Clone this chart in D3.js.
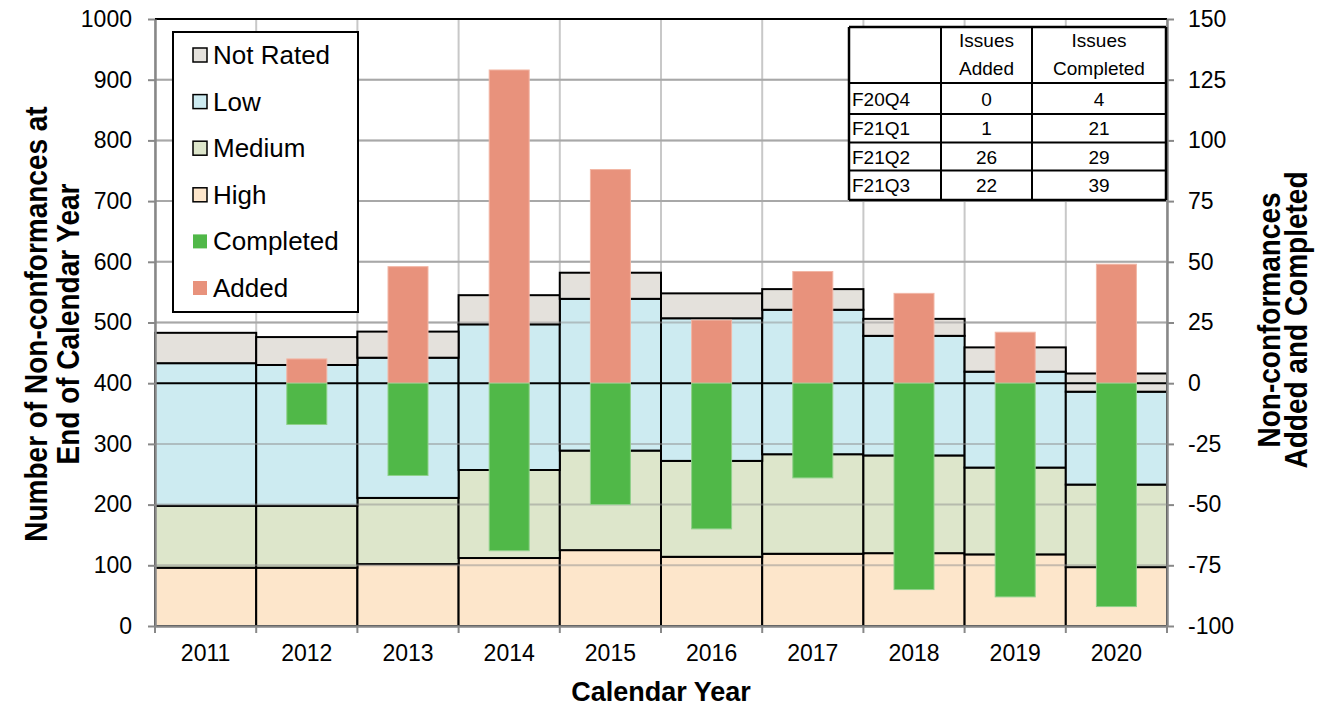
<!DOCTYPE html>
<html lang="en">

<head>
    <meta charset="UTF-8">
    <title>Non-conformances by Calendar Year</title>
    <script src="https://d3js.org/d3.v7.min.js"></script>
    <style>
    body {
        margin: 0;
        padding: 0;
        background: #fff;
        font-family: "Liberation Sans", Arial, sans-serif;
    }

    svg {
        display: block;
    }

    .axis text {
        font-size: 23px;
        fill: #000;
        font-family: "Liberation Sans", Arial, sans-serif;
    }

    .title {
        font-size: 27px;
        font-weight: bold;
    }

    .vtitle {
        font-size: 28px;
        font-weight: bold;
    }
    </style>
</head>

<body>
    <svg width="1325" height="707"></svg>
    <script>
    const width = 1325,
        height = 707;

    // data
    const years = ["2011", "2012", "2013", "2014", "2015", "2016", "2017", "2018", "2019", "2020"];
    const high = [96, 96, 102, 112, 125, 114, 119, 120, 118, 97];
    const medium = [102, 102, 109, 145, 164, 158, 164, 161, 143, 136];
    const low = [235, 232, 231, 240, 250, 235, 238, 197, 158, 153];
    const notRated = [50, 46, 43, 48, 43, 41, 34, 28, 40, 30];
    const added = [0, 10, 48, 129, 88, 26, 46, 37, 21, 49];
    const completed = [0, -17, -38, -69, -50, -60, -39, -85, -88, -92];

    const leftTicks = [0, 100, 200, 300, 400, 500, 600, 700, 800, 900, 1000];
    const rightTicks = [-100, -75, -50, -25, 0, 25, 50, 75, 100, 125, 150];

    // quarter table
    const quarters = ["F20Q4", "F21Q1", "F21Q2", "F21Q3"];
    const issuesAdded = [0, 1, 26, 22];
    const issuesCompleted = [4, 21, 29, 39];

    const stackKeys = ["High", "Medium", "Low", "Not Rated"];
    const stackColors = ["#fde6cb", "#dde6cb", "#cdebf1", "#e4e1dc"];
    const legendNames = ["Not Rated", "Low", "Medium", "High", "Completed", "Added"];
    const legendColors = ["#e4e1dc", "#cdebf1", "#dde6cb", "#fde6cb", "#50b848", "#e8927c"];

    const margin = { left: 155, right: 158, top: 19, bottom: 81 };
    const x0 = margin.left,
        x1 = width - margin.right,
        yTop = margin.top,
        yBot = height - margin.bottom;

    const svg = d3.select("svg");

    const x = d3.scaleBand().domain(years).range([x0, x1]).padding(0);
    const y = d3.scaleLinear().domain([0, 1000]).range([yBot, yTop]);
    const y2 = d3.scaleLinear().domain([-100, 150]).range([yBot, yTop]);

    // stacked table
    const rows = years.map((yr, i) => ({
        year: yr,
        "High": high[i],
        "Medium": medium[i],
        "Low": low[i],
        "Not Rated": notRated[i]
    }));
    const stacked = d3.stack().keys(stackKeys)(rows);

    // vertical grid lines (behind)
    const bounds = years.map(d => x(d)).concat([x1]);
    svg.append("g").selectAll("line")
        .data(bounds)
        .enter().append("line")
        .attr("x1", d => d).attr("x2", d => d)
        .attr("y1", yTop).attr("y2", yBot)
        .attr("stroke", "#c8c8c8")
        .attr("stroke-width", 2);

    // horizontal grid (behind)
    svg.append("g").selectAll("line")
        .data(leftTicks)
        .enter().append("line")
        .attr("x1", x0).attr("x2", x1)
        .attr("y1", d => y(d)).attr("y2", d => y(d))
        .attr("stroke", "#c0c0c0")
        .attr("stroke-width", 2);

    // stacked bars
    svg.append("g").selectAll("g")
        .data(stacked)
        .enter().append("g")
        .attr("fill", (d, i) => stackColors[i])
        .selectAll("rect")
        .data(d => d)
        .enter().append("rect")
        .attr("x", d => x(d.data.year))
        .attr("width", x.bandwidth())
        .attr("y", d => y(d[1]))
        .attr("height", d => y(d[0]) - y(d[1]))
        .attr("stroke", "#000")
        .attr("stroke-width", 2);

    // gridlines showing through the stacks
    svg.append("g").selectAll("line")
        .data(leftTicks.filter(d => d > 0 && d < 1000 && d !== 400))
        .enter().append("line")
        .attr("x1", x0).attr("x2", x1)
        .attr("y1", d => y(d)).attr("y2", d => y(d))
        .attr("stroke", "#909090")
        .attr("stroke-opacity", 0.5)
        .attr("stroke-width", 2);

    // zero line of secondary axis
    svg.append("line")
        .attr("x1", x0).attr("x2", x1)
        .attr("y1", y2(0)).attr("y2", y2(0))
        .attr("stroke", "#000")
        .attr("stroke-width", 2);

    // added / completed bars
    const bw = 40;
    svg.append("g").selectAll("rect")
        .data(added)
        .enter().append("rect")
        .attr("x", (d, i) => x(years[i]) + x.bandwidth() / 2 - bw / 2)
        .attr("width", bw)
        .attr("y", d => y2(d))
        .attr("height", d => y2(0) - y2(d))
        .attr("fill", "#e8927c")
        .attr("stroke", d => d > 0 ? "#f2b6a5" : "none")
        .attr("stroke-width", 1);

    svg.append("g").selectAll("rect")
        .data(completed)
        .enter().append("rect")
        .attr("x", (d, i) => x(years[i]) + x.bandwidth() / 2 - bw / 2)
        .attr("width", bw)
        .attr("y", y2(0))
        .attr("height", d => y2(d) - y2(0))
        .attr("fill", "#50b848")
        .attr("stroke", d => d < 0 ? "#8fd08a" : "none")
        .attr("stroke-width", 1);

    // top border
    svg.append("line")
        .attr("x1", x0).attr("x2", x1)
        .attr("y1", yTop).attr("y2", yTop)
        .attr("stroke", "#000")
        .attr("stroke-width", 2);

    // axes
    const leftAxis = svg.append("g")
        .attr("class", "axis")
        .attr("transform", `translate(${x0},0)`)
        .call(d3.axisLeft(y).tickValues(leftTicks).tickFormat(d => String(d))
            .tickSize(7).tickPadding(16).tickSizeOuter(0));

    const rightAxis = svg.append("g")
        .attr("class", "axis")
        .attr("transform", `translate(${x1},0)`)
        .call(d3.axisRight(y2).tickValues(rightTicks).tickFormat(d => String(d))
            .tickSize(7).tickPadding(14).tickSizeOuter(0));

    const bottomAxis = svg.append("g")
        .attr("class", "axis")
        .attr("transform", `translate(0,${yBot})`)
        .call(d3.axisBottom(x).tickSize(0).tickPadding(19).tickSizeOuter(0));

    [leftAxis, rightAxis, bottomAxis].forEach(a => {
        a.select(".domain").attr("stroke", "#888").attr("stroke-width", 2.5);
        a.selectAll(".tick line").attr("stroke", "#888").attr("stroke-width", 2);
    });

    // ticks on category boundaries
    svg.append("g").selectAll("line")
        .data(bounds)
        .enter().append("line")
        .attr("x1", d => d).attr("x2", d => d)
        .attr("y1", yBot).attr("y2", yBot + 7)
        .attr("stroke", "#888")
        .attr("stroke-width", 2);

    // axis titles
    svg.append("text")
        .attr("class", "title")
        .attr("x", (x0 + x1) / 2)
        .attr("y", 701)
        .attr("text-anchor", "middle")
        .text("Calendar Year");

    // rotated titles; glyphs are a little taller in the original
    function vText(bx, cy, str) {
        svg.append("text")
            .attr("class", "vtitle")
            .attr("text-anchor", "middle")
            .attr("transform", `translate(${bx},${cy}) rotate(-90) scale(1,1.15)`)
            .text(str);
    }
    vText(47, 324, "Number of Non-conformances at");
    vText(79, 324, "End of Calendar Year");
    vText(1280, 320, "Non-conformances");
    vText(1307, 320, "Added and Completed");

    // legend
    const legend = svg.append("g");
    legend.append("rect")
        .attr("x", 173).attr("y", 32)
        .attr("width", 185).attr("height", 280)
        .attr("fill", "#fff")
        .attr("stroke", "#000")
        .attr("stroke-width", 2);

    const legendItem = legend.selectAll("g.item")
        .data(legendNames)
        .enter().append("g")
        .attr("class", "item")
        .attr("transform", (d, i) => `translate(193,${55 + i * 46.6})`);

    legendItem.append("rect")
        .attr("x", 0).attr("y", -7)
        .attr("width", 14).attr("height", 14)
        .attr("fill", (d, i) => legendColors[i])
        .attr("stroke", (d, i) => i < 4 ? "#000" : "none")
        .attr("stroke-width", 1.5);

    legendItem.append("text")
        .attr("x", 20)
        .attr("y", 9)
        .style("font-size", "26px")
        .text(d => d);

    // quarter table
    const tbl = svg.append("g").style("font-size", "19px");
    const tx = [849, 941, 1032, 1166];
    const ty = [27, 83, 114, 142.5, 170.5, 200];
    tbl.append("rect")
        .attr("x", tx[0]).attr("y", ty[0])
        .attr("width", tx[3] - tx[0]).attr("height", ty[5] - ty[0])
        .attr("fill", "#fff");
    tbl.selectAll("line.h")
        .data(ty)
        .enter().append("line")
        .attr("x1", tx[0]).attr("x2", tx[3])
        .attr("y1", d => d).attr("y2", d => d)
        .attr("stroke", "#000")
        .attr("stroke-width", (d, i) => i === 0 || i === 5 ? 2.5 : 2);
    tbl.selectAll("line.v")
        .data(tx)
        .enter().append("line")
        .attr("x1", d => d).attr("x2", d => d)
        .attr("y1", ty[0]).attr("y2", ty[5])
        .attr("stroke", "#000")
        .attr("stroke-width", (d, i) => i === 0 || i === 3 ? 2.5 : 2);

    const c1 = (tx[1] + tx[2]) / 2,
        c2 = (tx[2] + tx[3]) / 2;
    tbl.append("text").attr("x", c1).attr("y", 47).attr("text-anchor", "middle").text("Issues");
    tbl.append("text").attr("x", c1).attr("y", 75).attr("text-anchor", "middle").text("Added");
    tbl.append("text").attr("x", c2).attr("y", 47).attr("text-anchor", "middle").text("Issues");
    tbl.append("text").attr("x", c2).attr("y", 75).attr("text-anchor", "middle").text("Completed");

    quarters.forEach((q, i) => {
        const by = ty[i + 1] + (ty[i + 2] - ty[i + 1]) / 2 + 7;
        tbl.append("text").attr("x", 852).attr("y", by).text(q);
        tbl.append("text").attr("x", c1).attr("y", by).attr("text-anchor", "middle").text(issuesAdded[i]);
        tbl.append("text").attr("x", c2).attr("y", by).attr("text-anchor", "middle").text(issuesCompleted[i]);
    });
    </script>
</body>

</html>
